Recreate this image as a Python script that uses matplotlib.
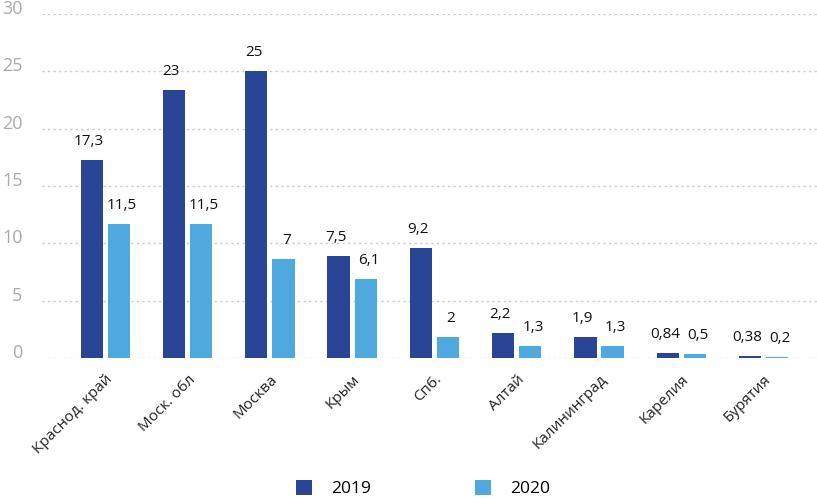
import matplotlib
matplotlib.use("Agg")
import matplotlib.pyplot as plt
import numpy as np

regions = ['Краснод. край', 'Моск. обл', 'Москва', 'Крым', 'Спб.',
           'Алтай', 'Калининград', 'Карелия', 'Бурятия']
# bar heights as drawn in the picture
vals_2019 = [17.25, 23.4, 25.0, 8.9, 9.6, 2.15, 1.86, 0.46, 0.17]
vals_2020 = [11.7, 11.7, 8.6, 6.85, 1.86, 1.05, 1.05, 0.32, 0.08]
# labels as printed above the bars
labels_2019 = ['17,3', '23', '25', '7,5', '9,2', '2,2', '1,9', '0,84', '0,38']
labels_2020 = ['11,5', '11,5', '7', '6,1', '2', '1,3', '1,3', '0,5', '0,2']

c2019 = '#2b4596'
c2020 = '#4ea9de'

plt.rcParams['font.family'] = ['Open Sans', 'DejaVu Sans']

fig = plt.figure(figsize=(8.17, 4.98), dpi=100)
ax = fig.add_axes([0.0514, 0.281, 0.9486, 0.691])

x = np.arange(len(regions))
w = 0.27
off = 0.165
b1 = ax.bar(x - off, vals_2019, w, color=c2019, label='2019', zorder=3)
b2 = ax.bar(x + off, vals_2020, w, color=c2020, label='2020', zorder=3)

for bars, labs, dx in [(b1, labels_2019, -2), (b2, labels_2020, 2)]:
    for b, lab in zip(bars, labs):
        ax.annotate(lab, (b.get_x() + b.get_width() / 2, b.get_height()),
                    xytext=(dx, 8), textcoords='offset points',
                    ha='center', va='bottom', fontsize=11, color='#111111')

ax.set_ylim(0, 30)
ax.set_xlim(-0.77, 8.65)
ax.set_yticks(range(0, 31, 5))
ax.yaxis.grid(True, linestyle=(0, (1.5, 2.5)), color='#c8c8c8', linewidth=1)
ax.set_axisbelow(True)
for s in ax.spines.values():
    s.set_visible(False)
ax.tick_params(axis='y', length=0, pad=14, labelsize=13, labelcolor='#aaaaaa')
for t in ax.get_yticklabels():
    t.set_verticalalignment('baseline')
ax.tick_params(axis='x', length=0, pad=10)
ax.set_xticks(x)
ax.set_xticklabels(regions, rotation=45, ha='right', rotation_mode='anchor',
                   fontsize=11, color='#222222')

fig.legend(handles=[b1, b2], loc='lower center', ncol=2, frameon=False,
           bbox_to_anchor=(0.518, -0.03), fontsize=12.5, handlelength=0.9,
           handleheight=0.9, columnspacing=6, handletextpad=1.1)

fig.savefig('out.png', dpi=100)
